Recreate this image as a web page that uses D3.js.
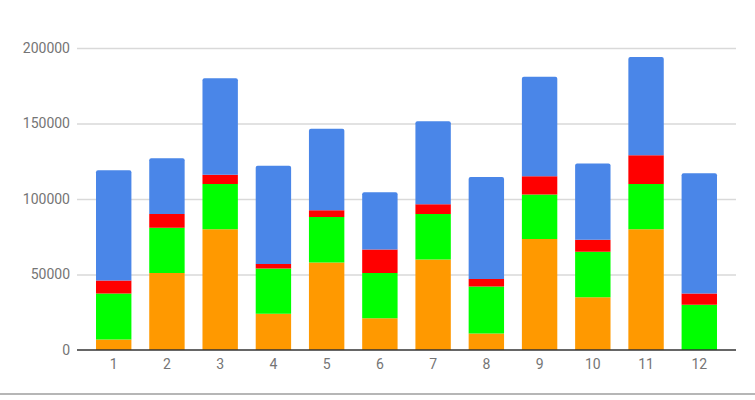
<!DOCTYPE html>
<html>
<head>
<meta charset="utf-8">
<script src="https://cdn.jsdelivr.net/npm/d3@7"></script>
<style>
  html, body { margin: 0; padding: 0; background: #fff; }
  svg { display: block; }
</style>
</head>
<body>
<svg id="chart" width="755" height="400"></svg>
<script>
const categories = ["1","2","3","4","5","6","7","8","9","10","11","12"];
const seriesNames = ["orange", "green", "red", "blue"];
const orangeValues = [7000, 51000, 80000, 24000, 58000, 21000, 60000, 11000, 73500, 35000, 80000, 0];
const greenValues  = [30500, 30000, 30000, 30000, 30000, 30000, 30000, 31000, 29500, 30000, 30000, 30000];
const redValues    = [8500, 9000, 6000, 3000, 4500, 15500, 6500, 5000, 12000, 8000, 19000, 7500];
const blueValues   = [73000, 37000, 64000, 65000, 54000, 38000, 55000, 67500, 66000, 50500, 65000, 79500];
const yTicks = [0, 50000, 100000, 150000, 200000];
const colors = ["#ff9900", "#00ff00", "#ff0000", "#4a86e8"];

const svg = d3.select("#chart");
const W = 755, H = 400;
const mLeft = 77, mRight = 736, mTop = 48, mBottom = 350;

const rows = categories.map((c, i) => ({
  cat: c, orange: orangeValues[i], green: greenValues[i], red: redValues[i], blue: blueValues[i]
}));
const stacked = d3.stack().keys(seriesNames)(rows);

const x = d3.scaleBand().domain(categories).range([mLeft, mRight])
  .paddingInner(0.335).paddingOuter(0.357);
const y = d3.scaleLinear().domain([0, 200000]).range([mBottom, mTop]);

// gridlines
const yAxis = d3.axisLeft(y).tickValues(yTicks).tickSize(-(mRight - mLeft)).tickPadding(7)
  .tickFormat(d3.format("d"));
const gy = svg.append("g").attr("transform", `translate(${mLeft},0)`).call(yAxis);
gy.select(".domain").remove();
gy.selectAll(".tick line").attr("stroke", "#d9d9d9").attr("stroke-width", 1.3)
  .filter(d => d === 0).remove();
gy.selectAll(".tick text").attr("fill", "#757575").style("font-family", "Roboto, sans-serif")
  .style("font-size", "14px");

// bars
const r = 2;
stacked.forEach((s, si) => {
  svg.append("g").attr("fill", colors[si]).selectAll("path").data(s).join("path")
    .attr("d", d => {
      const x0 = x(d.data.cat), w = x.bandwidth();
      const y0 = y(d[0]), y1 = y(d[1]);
      if (y0 - y1 <= 0) return "";
      if (si === seriesNames.length - 1) {
        return `M${x0},${y0}V${y1 + r}Q${x0},${y1} ${x0 + r},${y1}H${x0 + w - r}Q${x0 + w},${y1} ${x0 + w},${y1 + r}V${y0}Z`;
      }
      return `M${x0},${y0}V${y1}H${x0 + w}V${y0}Z`;
    });
});

// x axis
const xAxis = d3.axisBottom(x).tickSize(0).tickPadding(9);
const gx = svg.append("g").attr("transform", `translate(0,${mBottom})`).call(xAxis);
gx.select(".domain").attr("stroke", "#333").attr("stroke-width", 1.3)
  .attr("d", `M${mLeft},0H${mRight}`);
gx.selectAll(".tick text").attr("fill", "#757575").style("font-family", "Roboto, sans-serif")
  .style("font-size", "14px");

// bottom border
svg.append("line").attr("x1", 0).attr("x2", W).attr("y1", 394).attr("y2", 394)
  .attr("stroke", "#9e9e9e").attr("stroke-width", 1.5);
</script>
</body>
</html>
